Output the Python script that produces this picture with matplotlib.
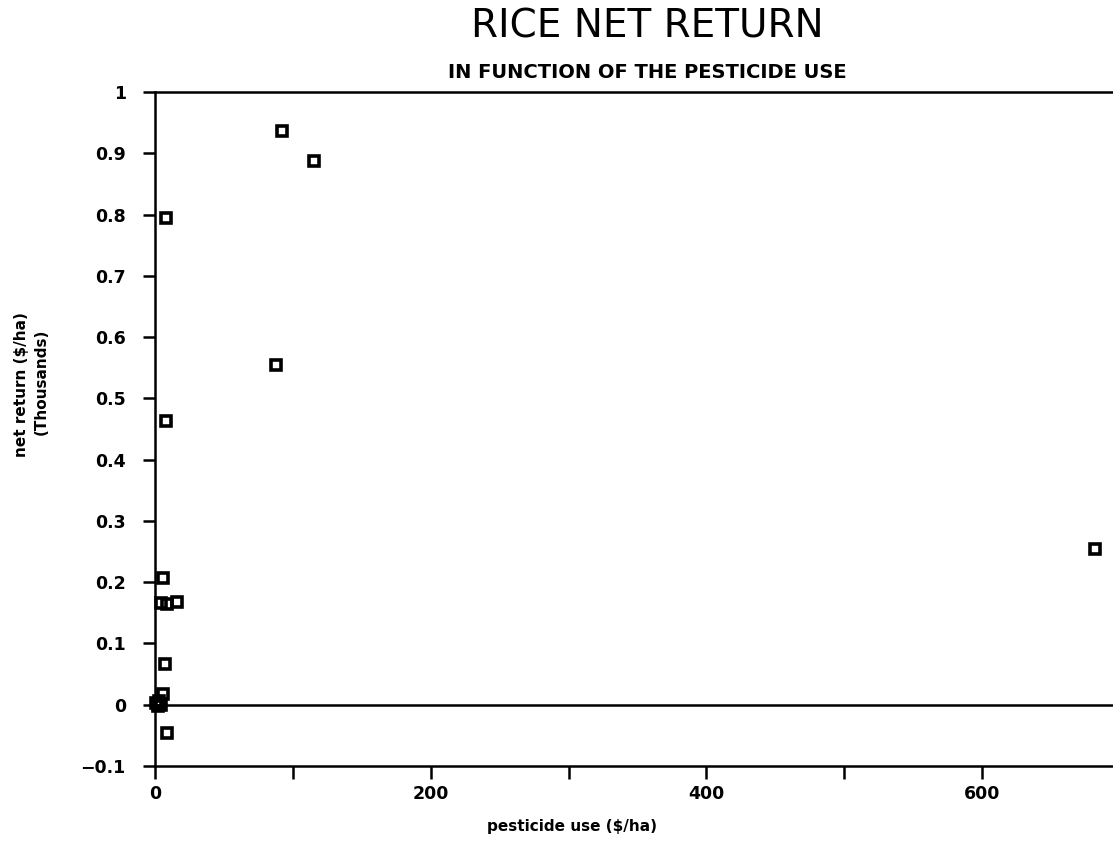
import matplotlib
matplotlib.use('Agg')
import matplotlib.pyplot as plt

# pesticide use ($/ha) and net return (thousand $/ha) per farm
pesticide = [92, 115, 8, 88, 8, 6, 4, 9, 16, 7, 6, 1, 2, 3, 4, 2, 9, 682]
net_return = [0.936, 0.888, 0.795, 0.554, 0.463, 0.207, 0.166, 0.165, 0.168,
              0.066, 0.017, 0.003, 0.001, 0.006, 0.000, -0.002, -0.046, 0.254]

xticks = [0, 100, 200, 300, 400, 500, 600, 700]
xticklabels = ['0', '', '200', '', '400', '', '600', '']
yticks = [-0.1, 0, 0.1, 0.2, 0.3, 0.4, 0.5, 0.6, 0.7, 0.8, 0.9, 1.0]
yticklabels = ['\u22120.1', '0', '0.1', '0.2', '0.3', '0.4', '0.5', '0.6', '0.7',
               '0.8', '0.9', '1']

fig = plt.figure(figsize=(11.13, 8.66), dpi=100)
ax = fig.add_axes([155/1113, (866-766)/866, 965/1113, (766-92)/866])

ax.plot(pesticide, net_return, 's', markersize=7.5, markerfacecolor='none',
        markeredgecolor='black', markeredgewidth=2.6, clip_on=False)
ax.axhline(0, color='black', linewidth=1.8)

ax.set_xlim(0, 700)
ax.set_ylim(-0.1, 1.0)
ax.set_xticks(xticks)
ax.set_xticklabels(xticklabels)
ax.set_yticks(yticks)
ax.set_yticklabels(yticklabels)

for side in ['left', 'bottom', 'top']:
    ax.spines[side].set_linewidth(1.8)
ax.spines['right'].set_visible(False)
ax.tick_params(direction='out', length=9, width=1.8, labelsize=12.5)
ax.tick_params(axis='y', pad=12)
ax.tick_params(axis='x', pad=5)
for lbl in ax.get_xticklabels() + ax.get_yticklabels():
    lbl.set_fontweight('heavy')

fig.text(647/1113, 1 - 26/866, 'RICE NET RETURN', ha='center', va='center',
         fontsize=28, fontweight='normal')
fig.text(647/1113, 1 - 72/866, 'IN FUNCTION OF THE PESTICIDE USE', ha='center',
         va='center', fontsize=14, fontweight='heavy')
fig.text(572/1113, 1 - 826/866, 'pesticide use ($/ha)', ha='center', va='center',
         fontsize=11, fontweight='heavy')
fig.text(22/1113, 1 - 385/866, 'net return ($/ha)', ha='center', va='center',
         rotation=90, fontsize=11, fontweight='heavy')
fig.text(41/1113, 1 - 382/866, '(Thousands)', ha='center', va='center',
         rotation=90, fontsize=11, fontweight='heavy')

plt.savefig('out.png', dpi=100)
